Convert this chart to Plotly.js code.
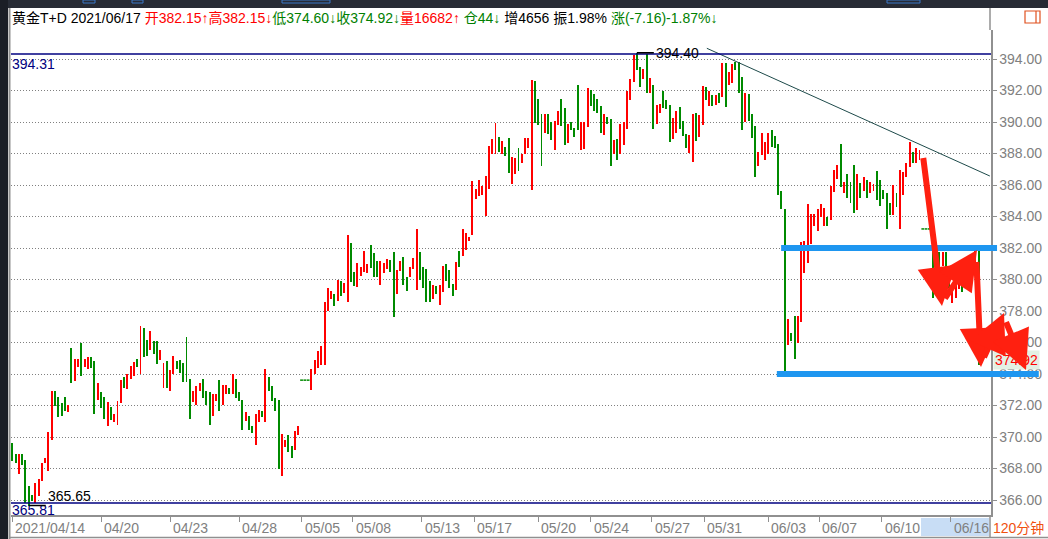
<!DOCTYPE html>
<html><head><meta charset="utf-8">
<script src="https://cdn.plot.ly/plotly-3.0.1.min.js"></script>
<style>html,body{margin:0;padding:0;background:#fff;overflow:hidden}#chart{width:1048px;height:539px}</style>
</head><body><div id="chart"></div>
<script>
// ---- data: 120-minute bars of 黄金T+D, 2021/04/14 – 2021/06/17 ----
const highs = [
369.59,368.91,368.95,368.95,368.51,366.92,366.29,367.09,367.34,368.34,
368.68,370.29,372.89,372.89,372.53,372.13,372.57,372.06,375.62,374.98,
374.98,376.00,374.98,375.07,375.09,374.81,373.46,372.83,372.53,372.21,
371.89,371.45,372.30,373.59,373.80,374.01,374.48,374.79,374.98,377.02,
376.95,376.13,376.70,376.11,376.08,375.51,374.69,374.81,374.24,375.17,
374.84,374.88,374.69,376.32,373.71,372.89,373.27,373.46,373.71,372.95,
372.83,372.70,372.76,373.59,373.31,373.31,373.14,374.01,373.71,372.83,
372.38,371.56,371.32,370.73,371.43,371.70,371.68,374.29,373.84,373.27,
372.47,372.38,370.16,369.84,370.10,369.40,370.41,370.73,373.61,373.61,
373.61,374.29,374.92,375.43,375.75,378.60,379.49,379.26,379.08,379.97,
379.93,379.76,382.83,382.34,380.46,381.03,380.77,381.81,380.98,382.19,
381.70,381.17,381.17,381.07,381.30,381.24,381.75,380.60,381.17,381.41,
380.14,380.77,381.34,383.21,381.72,380.77,380.66,379.93,379.65,379.61,
379.65,380.86,380.96,380.60,379.71,381.09,381.81,383.21,382.97,382.72,
386.25,385.75,386.32,385.96,386.59,388.50,388.92,389.96,389.07,388.79,
388.43,389.00,387.80,387.69,388.37,387.97,389.00,389.00,392.67,392.60,
391.46,390.51,390.51,390.51,389.98,390.09,390.72,391.46,390.91,389.87,
389.98,389.64,392.35,390.02,389.98,392.18,392.03,391.76,391.46,391.02,
390.51,390.30,390.17,388.86,388.90,389.87,390.02,391.97,392.71,394.25,
394.40,393.51,393.37,394.32,392.77,392.35,391.08,391.14,391.97,391.40,
391.08,390.23,390.72,390.97,390.09,389.22,389.17,390.51,390.55,390.45,
392.29,392.20,391.97,391.71,391.71,391.86,393.73,393.73,393.20,393.66,
393.83,393.83,392.88,391.86,391.78,390.51,389.75,388.07,389.28,388.75,
389.28,389.49,389.11,388.60,385.62,384.46,377.47,376.62,377.68,377.68,
382.36,382.47,384.79,384.16,384.16,384.48,384.79,384.52,383.95,385.94,
386.95,387.27,388.60,386.21,386.70,386.17,387.27,386.70,386.15,386.53,
386.32,386.21,386.04,386.89,386.32,385.68,385.47,384.88,386.00,385.51,
386.95,386.85,387.42,388.75,388.12,388.37,388.22,383.21,383.21,383.21,
381.80,381.70,381.75,381.77,381.77,380.71,379.44,379.65,379.76,380.00,
380.60,381.03,381.24,382.19,382.15];
const lows = [
368.47,368.32,367.64,368.21,365.80,365.65,365.93,365.82,366.24,367.20,
368.32,367.83,369.84,371.96,371.30,371.32,371.64,371.58,373.40,373.54,
374.43,373.86,374.43,374.29,374.39,371.49,372.34,371.87,371.15,370.67,
371.11,370.98,370.75,372.19,373.12,373.02,373.69,373.86,374.43,374.03,
375.11,375.15,375.53,375.26,374.62,374.92,373.10,373.12,372.91,373.99,
374.33,374.05,373.48,373.48,371.13,372.25,372.06,372.89,372.49,372.06,
370.75,371.32,372.28,371.64,372.06,372.76,372.74,372.70,372.49,372.28,
370.43,371.01,370.43,370.24,369.48,370.98,371.26,370.98,372.91,372.28,
371.64,368.00,367.51,369.35,369.04,368.66,369.16,370.12,373.61,373.61,
373.61,372.97,374.01,374.41,374.56,374.56,378.01,378.79,378.32,378.66,
378.95,379.12,378.59,379.86,379.59,379.54,380.22,380.46,380.39,380.71,
380.14,380.18,379.65,380.43,380.67,380.50,377.64,379.08,380.56,379.65,
379.29,380.14,380.64,379.33,379.97,379.44,378.59,378.59,378.74,379.08,
378.38,379.23,379.93,379.48,378.95,379.33,380.81,381.49,381.87,382.47,
382.83,385.09,385.30,385.37,384.03,385.75,387.97,387.97,388.12,387.97,
387.84,386.78,386.06,386.70,386.91,387.42,387.97,388.37,385.68,389.92,
389.81,387.21,389.32,389.24,388.86,388.22,389.81,389.75,388.54,388.69,
389.49,389.07,389.49,388.22,388.29,389.70,391.04,390.70,390.59,389.32,
389.17,389.87,387.21,387.97,387.59,387.97,388.54,389.56,391.40,392.56,
393.30,392.24,392.73,391.82,391.82,389.53,389.87,390.55,390.87,390.80,
388.75,388.90,389.32,389.53,389.11,388.33,388.01,387.48,388.79,389.07,
389.81,391.40,391.02,391.02,391.08,391.19,391.61,390.97,392.35,392.45,
393.30,391.82,389.49,390.02,390.09,388.96,386.53,387.21,387.90,387.59,
387.97,388.39,388.33,385.37,384.48,373.79,375.84,376.12,374.93,375.95,
377.32,380.43,381.03,382.23,383.40,383.10,383.95,383.40,383.40,383.78,
385.58,386.36,385.89,385.51,385.15,384.88,384.20,384.41,385.15,385.64,
385.15,385.47,385.64,385.05,384.69,385.11,383.21,384.09,384.09,384.58,
383.21,385.37,386.53,387.17,387.38,387.42,387.59,383.21,383.21,383.21,
378.80,379.70,380.60,380.86,380.80,379.44,378.49,378.85,379.38,379.20,
380.07,379.80,380.60,380.71,374.60];
// R = up (red), G = down (green)
const dirs = (
"GGRGGGGRRR"+"RRRGGGGRGR"+"RGRRGGRGGR"+"GRRRGRRRGR"+"GGRGGRRGRR"+
"GGGGGRRRGG"+"GRRGRRGRGG"+"GRGGRRGRGG"+"GGRRGGRRGG"+"GRRRRRRRGR"+
"GRRGGRRRRG"+"GGRRRGGRRG"+"GRRRGGGGRG"+"RRGGGRGRRR"+"RRRRRRRRGR"+
"GGRRGRRRRG"+"GGRGGRRGGR"+"GGGRRRGGGG"+"RGGRGRRRRR"+"GGRGRGRRGG"+
"GRRGGGRRGR"+"RGRGRGRGRR"+"GGGRGGGRRR"+"RGGGGGRGGR"+"RRRRRRRRGR"+
"RRGRGGGRGR"+"GRRGGGGGRG"+"RRRRGRRGGG"+"GRGRGGRRRG"+"RRRRG").split("");

const dateLabels  = ["2021/04/14","04/20","04/23","04/28","05/05","05/08","05/13","05/17",
                     "05/20","05/24","05/27","05/31","06/03","06/07","06/10","06/16"];
const dateTickIdx = [0,27,48,69,88,103.5,124.5,140.5,160,176,194.5,210.5,230,245.5,264.5,285.5];

const periodHigh = {idx:190, price:394.40};
const periodLow  = {idx:5,   price:365.65};
const refLevels  = [394.31, 365.81];
const lastClose  = 374.92;
const supports   = [{price:382.00, from:233.9, to:300.5},{price:374.00, from:232.6, to:313.2}];
const trend      = {x0:211.3, y0:394.68, x1:297.4, y1:386.57};

const header = '黄金T+D 2021/06/17 '
 + '<span style="color:#ff0000">开382.15↑高382.15↓</span>'
 + '<span style="color:#008000">低374.60↓收374.92↓</span>'
 + '<span style="color:#ff0000">量16682↑</span> '
 + '<span style="color:#008000">仓44↓</span> 增4656 振1.98% '
 + '<span style="color:#008000">涨(-7.16)-1.87%↓</span>';

// ---- build ----
const RED = '#ff0000', GREEN = '#008a00';
const idx = highs.map((_, i) => i);
const isFlat = highs.map((h, i) => h === lows[i]);
const barX = idx.filter(i => !isFlat[i]);
const barTrace = {
  type:'bar', x:barX, base:barX.map(i => lows[i]), y:barX.map(i => highs[i]-lows[i]),
  width:0.6, marker:{color:barX.map(i => dirs[i]==='R'?RED:GREEN), line:{width:0}},
  hoverinfo:'skip'
};
const flatX = idx.filter(i => isFlat[i]);
const flatTrace = {
  type:'scatter', mode:'markers', x:flatX, y:flatX.map(i => lows[i]),
  marker:{symbol:'line-ew', size:2, line:{width:1.5, color:flatX.map(i => dirs[i]==='R'?RED:GREEN)}},
  hoverinfo:'skip'
};

const XR = [-0.395, 297.75];
const PL=11, PT=30, PW=980, PH=485;
const px = x => (x-PL)/PW, py = y => (PT+PH-y)/PH;
const FONT = 'Liberation Sans, Arial, Noto Sans CJK SC, sans-serif';

const shapes = [
  {type:'rect', xref:'paper', yref:'paper', x0:px(0), x1:px(1048), y0:py(8), y1:py(0), fillcolor:'#272b35', line:{width:0}, layer:'below'},
  {type:'rect', xref:'paper', yref:'paper', x0:px(0), x1:px(8), y0:py(539), y1:py(0), fillcolor:'#1b1e26', line:{width:0}, layer:'below'},
  {type:'line', xref:'paper', yref:'paper', x0:px(9.5), x1:px(9.5), y0:py(8), y1:py(539), line:{color:'#909090', width:2}},
  {type:'line', xref:'paper', yref:'paper', x0:px(9), x1:px(1048), y0:py(537.5), y1:py(537.5), line:{color:'#909090', width:1.5}},
  {type:'line', xref:'paper', yref:'paper', x0:px(990), x1:px(990), y0:py(8), y1:py(30), line:{color:'#909090', width:1.5}},
  {type:'line', xref:'paper', yref:'paper', x0:px(990), x1:px(990), y0:py(515), y1:py(537), line:{color:'#909090', width:1.5}},
  {type:'rect', xref:'paper', yref:'paper', x0:px(921), x1:px(989), y0:py(536), y1:py(518), fillcolor:'#c8ddf5', line:{width:0}, layer:'below'},
  {type:'rect', xref:'paper', yref:'paper', x0:px(1025), x1:px(1040), y0:py(23), y1:py(11), line:{color:'#e0501e', width:1.2}},
  {type:'line', xref:'paper', yref:'paper', x0:px(1036), x1:px(1036), y0:py(23), y1:py(11), line:{color:'#e0501e', width:1.2}},
  {type:'rect', xref:'paper', yref:'paper', x0:px(83), x1:px(95), y0:py(3), y1:py(0), line:{color:'#3a78c8', width:1}},
  {type:'rect', xref:'paper', yref:'paper', x0:px(132), x1:px(143), y0:py(3), y1:py(0), line:{color:'#3a78c8', width:1}},
  {type:'rect', xref:'paper', yref:'paper', x0:px(282), x1:px(330), y0:py(3), y1:py(0), line:{color:'#3a78c8', width:1}},
  {type:'rect', xref:'paper', yref:'paper', x0:px(887), x1:px(920), y0:py(3), y1:py(0), line:{color:'#3a78c8', width:1}},
  {type:'line', xref:'x', yref:'y', x0:trend.x0, y0:trend.y0, x1:trend.x1, y1:trend.y1, line:{color:'#1d4a4a', width:1}, layer:'above'}
];
refLevels.forEach(v => shapes.push({type:'line', xref:'x', yref:'y', x0:XR[0], x1:XR[1], y0:v, y1:v, line:{color:'#000080', width:1.5}, layer:'above'}));

const annotations = [];
dateLabels.forEach((t, i) => annotations.push({xref:'x', yref:'paper', x:dateTickIdx[i], y:py(527.5), xanchor:'left', yanchor:'middle', xshift:1, text:t, showarrow:false, font:{family:FONT, size:14, color:'#808080'}}));
annotations.push({xref:'paper', yref:'paper', x:px(991), y:py(527.5), xanchor:'left', yanchor:'middle', text:'120分钟', showarrow:false, font:{family:FONT, size:14, color:'#f0500f'}});
refLevels.forEach((v, i) => annotations.push({xref:'paper', yref:'y', x:px(11), y:v, xanchor:'left', yanchor:'top', yshift:i===1?2:-1, borderpad:0, text:v.toFixed(2), showarrow:false, font:{family:FONT, size:14, color:'#000080'}}));
annotations.push({xref:'x', yref:'y', x:periodHigh.idx, y:periodHigh.price, axref:'pixel', ayref:'pixel', ax:17, ay:0, xanchor:'left', showarrow:true, arrowhead:0, arrowwidth:1.5, arrowcolor:'#000', text:periodHigh.price.toFixed(2), font:{family:FONT, size:14, color:'#000'}});
annotations.push({xref:'x', yref:'y', x:periodLow.idx, y:periodLow.price, axref:'pixel', ayref:'pixel', ax:17, ay:0, xanchor:'left', yanchor:'bottom', showarrow:true, arrowhead:0, arrowwidth:1.5, arrowcolor:'#000', text:periodLow.price.toFixed(2), font:{family:FONT, size:14, color:'#000'}});
supports.forEach(s => annotations.push({xref:'x', yref:'y', x:s.from, y:s.price, axref:'x', ayref:'y', ax:s.to, ay:s.price, text:' ', showarrow:true, arrowhead:0, arrowwidth:6, arrowcolor:'#1e96f0'}));
annotations.push({xref:'paper', yref:'y', x:px(993), y:lastClose, xanchor:'left', yanchor:'middle', text:lastClose.toFixed(2), showarrow:false, bgcolor:'#e3f0e3', borderpad:1, font:{family:FONT, size:14, color:'#ff0000'}});
// hand-drawn red arrows: [tailX, tailY, tipX, tipY] in page pixels
const redArrows = [[922,148,942,306],[942,303,977,250],[976,252,981,367],[981,364,1004,313],[1003,315,1026,370]];
redArrows.forEach(a => annotations.push({xref:'paper', yref:'paper', x:px(a[2]), y:py(a[3]), axref:'pixel', ayref:'pixel', ax:a[0]-a[2], ay:a[1]-a[3], text:' ', showarrow:true, arrowhead:2, arrowsize:1.3, arrowwidth:6, arrowcolor:'#ff2010'}));

const layout = {
  width:1048, height:539, margin:{l:PL, r:1048-PL-PW, t:PT, b:539-PT-PH, pad:0},
  paper_bgcolor:'#ffffff', plot_bgcolor:'#ffffff', showlegend:false, hovermode:false, bargap:0,
  title:{text:header, xref:'container', yref:'container', x:12/1048, y:1-18/539, xanchor:'left', yanchor:'middle', font:{family:FONT, size:14, color:'#000'}},
  xaxis:{range:XR, showgrid:false, zeroline:false, showline:true, linecolor:'#909090', linewidth:1.5,
         ticks:'outside', ticklen:5, tickcolor:'#909090', tickvals:dateTickIdx, showticklabels:false, fixedrange:true},
  yaxis:{side:'right', range:[365.048, 395.841], tick0:366, dtick:2, tickformat:'.2f',
         showgrid:true, gridcolor:'#808080', griddash:'1px,2px', gridwidth:1, zeroline:false,
         showline:true, linecolor:'#909090', linewidth:1.5, ticks:'outside', ticklen:4, tickcolor:'#909090',
         tickfont:{family:FONT, size:14, color:'#808080'}, fixedrange:true},
  shapes:shapes, annotations:annotations
};
Plotly.newPlot('chart', [barTrace, flatTrace], layout, {displayModeBar:false, staticPlot:true});
</script></body></html>
